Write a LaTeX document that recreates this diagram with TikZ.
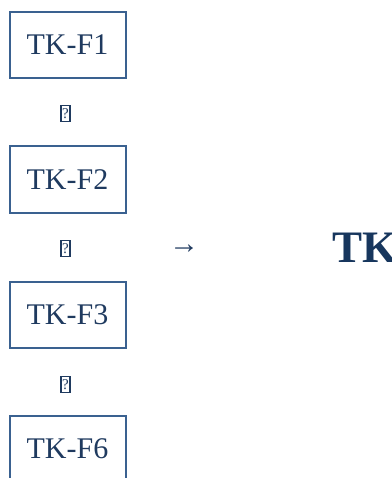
\documentclass[tikz,border=0pt]{standalone}
\usepackage{fontspec}
\setmainfont{Liberation Serif}
\definecolor{boxline}{HTML}{3A6190}
\definecolor{ink}{HTML}{1F3A5F}
\definecolor{inkbold}{HTML}{17365D}
\tikzset{
  stepbox/.style={draw=boxline, line width=2pt, minimum width=116pt, minimum height=66pt, inner sep=0pt, text=ink, font=\fontsize{30}{33}\selectfont},
  tofu/.style={draw=ink, line width=1.4pt, minimum width=9pt, minimum height=16pt, inner sep=0pt, text=ink, font=\fontsize{15}{17}\selectfont},
}
\begin{document}
\begin{tikzpicture}[x=1pt,y=-1pt]
\useasboundingbox (0,0) rectangle (391,478);
\clip (0,0) rectangle (391,478);
\node[stepbox] (f1) at (67.5,45) {TK-F1};
\node[tofu] (a1) at (65.5,113.5) {?};
\node[stepbox] (f2) at (67.5,179.5) {TK-F2};
\node[tofu] (a2) at (65.5,248.5) {?};
\node[stepbox] (f3) at (67.5,314.5) {TK-F3};
\node[tofu] (a3) at (65.5,384.5) {?};
\node[stepbox] (f6) at (67.5,448.5) {TK-F6};
\node[text=ink, font=\fontsize{30}{32}\selectfont, inner sep=0pt] (arr) at (184,249) {→};
\node[text=inkbold, font=\bfseries\fontsize{45}{48}\selectfont, inner sep=0pt, anchor=base west] (tk) at (332,262) {TK};
\end{tikzpicture}
\end{document}
